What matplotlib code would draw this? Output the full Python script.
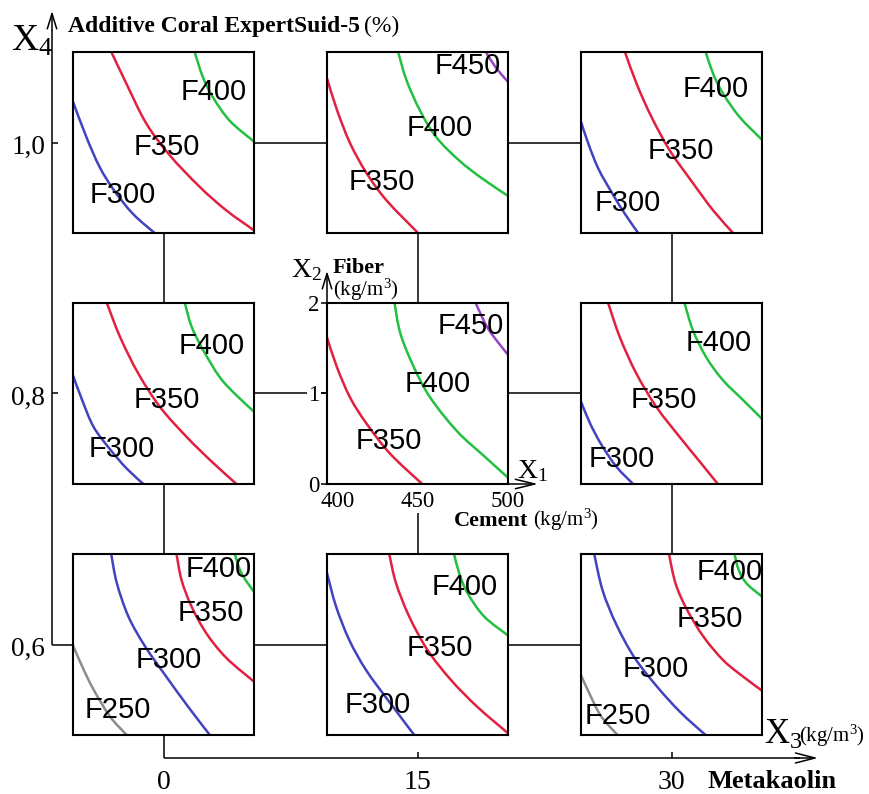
import matplotlib
matplotlib.use("Agg")
import matplotlib.pyplot as plt
from matplotlib.path import Path
from matplotlib.patches import PathPatch
from matplotlib.transforms import ScaledTranslation

W, H = 869, 794
PANEL = 181          # panel side, px
HALF = PANEL / 2

plt.rcParams['font.family'] = 'Liberation Serif'
plt.rcParams['mathtext.fontset'] = 'custom'
plt.rcParams['mathtext.rm'] = 'Liberation Serif'
plt.rcParams['mathtext.it'] = 'Liberation Serif:italic'
plt.rcParams['mathtext.bf'] = 'Liberation Serif:bold'

# ---------------- DATA ----------------
X3_LEVELS = [0, 15, 30]          # Metakaolin, kg/m3
X4_LEVELS = [1.0, 0.8, 0.6]      # Additive, %
X3_TICK_LABELS = ['0', '15', '30']
X4_TICK_LABELS = ['1,0', '0,8', '0,6']
X1_TICKS = [400, 450, 500]       # Cement, kg/m3
X2_TICKS = [0, 1, 2]             # Fiber, kg/m3

# iso-strength lines: class -> (X1 cement, X2 fiber)
F_0_10 = {
    300: ([400, 407.4, 414.7, 422.7, 433.2, 445.1], [1.45, 1.06, 0.73, 0.47, 0.21, 0.0]),
    350: ([421.2, 429.5, 440.5, 453.4, 470.0, 484.7, 500], [2.0, 1.65, 1.21, 0.86, 0.51, 0.25, 0.03]),
    400: ([467.2, 471.8, 477.3, 486.6, 500], [2.0, 1.72, 1.50, 1.24, 1.01]),
}
F_15_10 = {
    350: ([400, 405.5, 412.8, 421.9, 432.9, 450.3], [1.71, 1.36, 0.99, 0.66, 0.36, 0.0]),
    400: ([439.3, 443.9, 451.2, 460.3, 473.1, 485.9, 500], [2.0, 1.69, 1.36, 1.06, 0.80, 0.60, 0.41]),
    450: ([487.8, 493.2, 500], [2.0, 1.83, 1.67]),
}
F_30_10 = {
    300: ([400, 404.0, 409.6, 416.9, 424.3, 431.6], [1.23, 0.99, 0.71, 0.45, 0.21, 0.0]),
    350: ([424.3, 430.7, 439.0, 449.1, 461.9, 473.0, 484.0], [2.0, 1.65, 1.28, 0.91, 0.55, 0.25, 0.0]),
    400: ([468.9, 473.0, 478.5, 487.7, 500], [2.0, 1.76, 1.54, 1.28, 1.03]),
}
F_0_08 = {
    300: ([400, 405.0, 411.4, 420.6, 429.7, 438.9], [1.20, 0.93, 0.63, 0.38, 0.17, 0.0]),
    350: ([418.7, 426.1, 436.1, 448.1, 462.8, 476.5, 490.3], [2.0, 1.62, 1.22, 0.85, 0.52, 0.25, 0.0]),
    400: ([461.8, 465.5, 471.9, 481.1, 490.3, 500], [2.0, 1.74, 1.48, 1.18, 0.98, 0.80]),
}
F_15_08 = {
    350: ([400, 405.5, 412.9, 422.1, 435.1, 452.6], [1.62, 1.29, 0.95, 0.66, 0.33, 0.0]),
    400: ([437.3, 440.6, 448.0, 457.2, 472.0, 486.7, 500], [2.0, 1.66, 1.29, 0.95, 0.58, 0.31, 0.07]),
    450: ([482.1, 488.6, 495.9, 500], [2.0, 1.73, 1.53, 1.43]),
}
F_30_08 = {
    300: ([400, 405.0, 411.4, 419.6, 428.8], [0.91, 0.67, 0.43, 0.19, 0.0]),
    350: ([415.0, 421.5, 430.6, 441.7, 454.5, 465.5, 475.6], [2.0, 1.62, 1.22, 0.85, 0.52, 0.25, 0.0]),
    400: ([457.2, 461.8, 469.2, 478.3, 489.4, 500], [2.0, 1.70, 1.40, 1.15, 0.93, 0.72]),
}
F_0_06 = {
    250: ([400, 405.0, 411.4, 420.6, 429.7], [0.99, 0.76, 0.50, 0.20, 0.0]),
    300: ([421.1, 424.2, 430.6, 439.8, 451.7, 463.7, 475.6], [2.0, 1.68, 1.31, 0.98, 0.64, 0.31, 0.0]),
    350: ([457.2, 460.0, 465.5, 473.8, 484.8, 500], [2.0, 1.71, 1.42, 1.12, 0.85, 0.59]),
    400: ([489.4, 493.0, 500], [2.0, 1.79, 1.58]),
}
F_15_06 = {
    300: ([400, 405.0, 412.3, 421.5, 433.5, 448.2], [1.79, 1.42, 1.05, 0.72, 0.39, 0.0]),
    350: ([434.4, 438.1, 445.4, 455.5, 468.4, 483.1, 500], [2.0, 1.68, 1.31, 0.94, 0.61, 0.31, 0.02]),
    400: ([470.2, 473.0, 477.6, 486.8, 500], [2.0, 1.79, 1.57, 1.31, 1.10]),
}
F_30_06 = {
    250: ([400, 404.6, 411.0, 420.2], [0.66, 0.46, 0.21, 0.0]),
    300: ([407.3, 411.9, 419.3, 429.4, 442.2, 455.0, 468.8], [2.0, 1.60, 1.23, 0.86, 0.53, 0.25, 0.0]),
    350: ([448.6, 452.3, 458.7, 467.9, 478.9, 489.9, 500], [2.0, 1.67, 1.38, 1.08, 0.82, 0.64, 0.49]),
    400: ([484.8, 487.2, 491.7, 500], [2.0, 1.82, 1.67, 1.53]),
}

# where each class name sits inside its panel (X1, X2)
L_0_10 = {400: (477.7, 1.56), 350: (451.6, 0.95), 300: (427.6, 0.42)}
L_15_10 = {450: (477.7, 1.85), 400: (462.1, 1.16), 350: (430.2, 0.56)}
L_30_10 = {400: (474.3, 1.59), 350: (455.1, 0.91), 300: (425.6, 0.33)}
L_0_08 = {400: (476.5, 1.53), 350: (451.7, 0.93), 300: (427.0, 0.39)}
L_15_08 = {450: (479.3, 1.75), 400: (461.3, 1.11), 350: (434.1, 0.48)}
L_30_08 = {400: (476.1, 1.56), 350: (445.7, 0.93), 300: (422.4, 0.28)}
L_0_06 = {400: (480.7, 1.83), 350: (476.0, 1.35), 300: (452.7, 0.83), 250: (424.6, 0.28)}
L_15_06 = {400: (476.3, 1.64), 350: (462.3, 0.96), 300: (427.9, 0.33)}
L_30_06 = {400: (482.0, 1.80), 350: (471.2, 1.28), 300: (441.3, 0.73), 250: (420.6, 0.21)}

PANELS = {
    (0, 1.0): (F_0_10, L_0_10), (15, 1.0): (F_15_10, L_15_10), (30, 1.0): (F_30_10, L_30_10),
    (0, 0.8): (F_0_08, L_0_08), (15, 0.8): (F_15_08, L_15_08), (30, 0.8): (F_30_08, L_30_08),
    (0, 0.6): (F_0_06, L_0_06), (15, 0.6): (F_15_06, L_15_06), (30, 0.6): (F_30_06, L_30_06),
}

COLORS = {250: '#8c8c8c', 300: '#4343c2', 350: '#e2203f', 400: '#22c040', 450: '#9a42c8'}


# ---------------- GEOMETRY ----------------
def px_x3(v):
    return 163.5 + v / 15.0 * 254.0


def px_y4(v):
    return 644.5 - (v - 0.6) / 0.2 * 251.0


def kline(ax, xs, ys, lw=1.1):
    ax.plot(xs, ys, color='black', lw=lw, solid_capstyle='butt')


def arrow(ax, start, tip, hl=0.7, hw=0.18):
    ax.annotate('', xy=tip, xytext=start,
                arrowprops=dict(arrowstyle='->,head_length=%s,head_width=%s' % (hl, hw),
                                lw=1.1, color='black', mutation_scale=20,
                                shrinkA=0, shrinkB=0))


def smooth_path(xs, ys):
    # Catmull-Rom through the read points, drawn as cubic Bezier segments
    pts = list(zip(xs, ys))
    n = len(pts)
    verts, codes = [pts[0]], [Path.MOVETO]
    for i in range(n - 1):
        p0 = pts[i - 1] if i > 0 else pts[i]
        p1, p2 = pts[i], pts[i + 1]
        p3 = pts[i + 2] if i + 2 < n else pts[i + 1]
        c1 = (p1[0] + (p2[0] - p0[0]) / 6, p1[1] + (p2[1] - p0[1]) / 6)
        c2 = (p2[0] - (p3[0] - p1[0]) / 6, p2[1] - (p3[1] - p1[1]) / 6)
        verts += [c1, c2, p2]
        codes += [Path.CURVE4] * 3
    return Path(verts, codes)


fig = plt.figure(figsize=(W / 100, H / 100), dpi=100)
bg = fig.add_axes([0, 0, 1, 1])
bg.set_xlim(0, W)
bg.set_ylim(H, 0)
bg.set_axis_off()

# connectors between neighbouring panels
for x4 in X4_LEVELS:
    cy = px_y4(x4)
    for a, b in zip(X3_LEVELS[:-1], X3_LEVELS[1:]):
        kline(bg, [px_x3(a) + HALF, px_x3(b) - HALF], [cy, cy])
for x3 in X3_LEVELS:
    cx = px_x3(x3)
    for a, b in zip(X4_LEVELS[:-1], X4_LEVELS[1:]):
        y_from = px_y4(a) + HALF
        if x3 == 15 and a == 0.8:
            y_from += 27          # below the cement tick labels
        kline(bg, [cx, cx], [y_from, px_y4(b) - HALF])

# X4 axis
y06 = px_y4(0.6)
kline(bg, [52, 52], [y06, 30])
kline(bg, [52, px_x3(0) - HALF], [y06, y06])
arrow(bg, (52, 30), (52, 11), hl=0.55, hw=0.17)
for v, lab in zip(X4_LEVELS, X4_TICK_LABELS):
    y = px_y4(v)
    if v != 0.6:
        kline(bg, [52, 58], [y, y])
    bg.text(45, y + 11, lab, fontsize=19.5, ha='right', va='baseline')
bg.text(11, 51, r'$\mathrm{X}_4$', fontsize=27, ha='left', va='baseline')
bg.text(68, 32, 'Additive Coral ExpertSuid-5', fontsize=17, fontweight='bold',
        ha='left', va='baseline')
bg.text(364, 32, '(%)', fontsize=17, ha='left', va='baseline')

# X3 axis
x0 = px_x3(0)
kline(bg, [x0, x0], [px_y4(0.6) + HALF, 758])
kline(bg, [x0, 800], [758, 758])
arrow(bg, (795, 758), (818, 758))
for v, lab in zip(X3_LEVELS, X3_TICK_LABELS):
    x = px_x3(v)
    if v != 0:
        kline(bg, [x, x], [752, 758])
    bg.text(x, 789, lab, fontsize=20, ha='center', va='baseline')
bg.text(764, 744, r'$\mathrm{X}_3$', fontsize=25, ha='left', va='baseline')
bg.text(799, 742, r'(kg/m$^3$)', fontsize=15, ha='left', va='baseline')
bg.text(707, 788, 'Metakaolin', fontsize=19, fontweight='bold', ha='left', va='baseline')

# arrows and captions of the centre panel
cx, cy = px_x3(15), px_y4(0.8)
arrow(bg, (cx - HALF, cy - HALF), (cx - HALF, 271), hl=0.55, hw=0.17)
arrow(bg, (cx + HALF - 2, cy + HALF), (538, cy + HALF), hl=0.7, hw=0.17)
bg.text(291, 277, r'$\mathrm{X}_2$', fontsize=20, ha='left', va='baseline')
bg.text(333, 273, 'Fiber', fontsize=16, fontweight='bold', ha='left', va='baseline')
bg.text(333, 296, r'(kg/m$^3$)', fontsize=15, ha='left', va='baseline')
bg.text(517, 478, r'$\mathrm{X}_1$', fontsize=20, ha='left', va='baseline')
bg.text(454, 526, 'Cement', fontsize=16, fontweight='bold', ha='left', va='baseline')
bg.text(533, 526, r'(kg/m$^3$)', fontsize=15, ha='left', va='baseline')

# ---------------- PANELS ----------------
for (x3, x4), (curves, labels) in PANELS.items():
    left = px_x3(x3) - HALF
    top = px_y4(x4) - HALF
    ax = fig.add_axes([left / W, 1 - (top + PANEL) / H, PANEL / W, PANEL / H], zorder=3)
    ax.set_xlim(400, 500)
    ax.set_ylim(0, 2)
    for lvl, (x1, x2) in curves.items():
        ax.add_patch(PathPatch(smooth_path(x1, x2), facecolor='none',
                               edgecolor=COLORS[lvl], lw=1.8, capstyle='butt',
                               joinstyle='round', zorder=2))
    for lvl, (tx, ty) in labels.items():
        ax.text(tx, ty, 'F%d' % lvl, fontsize=21, family='Liberation Sans',
                ha='center', va='center', zorder=3)
    for s in ax.spines.values():
        s.set_linewidth(1.5)
    if (x3, x4) == (15, 0.8):
        ax.set_xticks(X1_TICKS)
        ax.set_yticks(X2_TICKS)
        ax.tick_params(axis='x', length=0, pad=5, labelsize=16.5)
        ax.tick_params(axis='y', length=4, width=1.1, pad=1.5, labelsize=16.5)
        # white backing only where a connector runs under the label
        ax.get_yticklabels()[1].set_bbox(dict(facecolor='white', edgecolor='none', pad=1))
        ax.get_xticklabels()[1].set_bbox(dict(facecolor='white', edgecolor='none', pad=1))
        first = ax.get_xticklabels()[0]
        first.set_transform(first.get_transform() +
                            ScaledTranslation(8 / 72, 0, fig.dpi_scale_trans))
    else:
        ax.set_xticks([])
        ax.set_yticks([])

fig.savefig('out.png', dpi=100)
